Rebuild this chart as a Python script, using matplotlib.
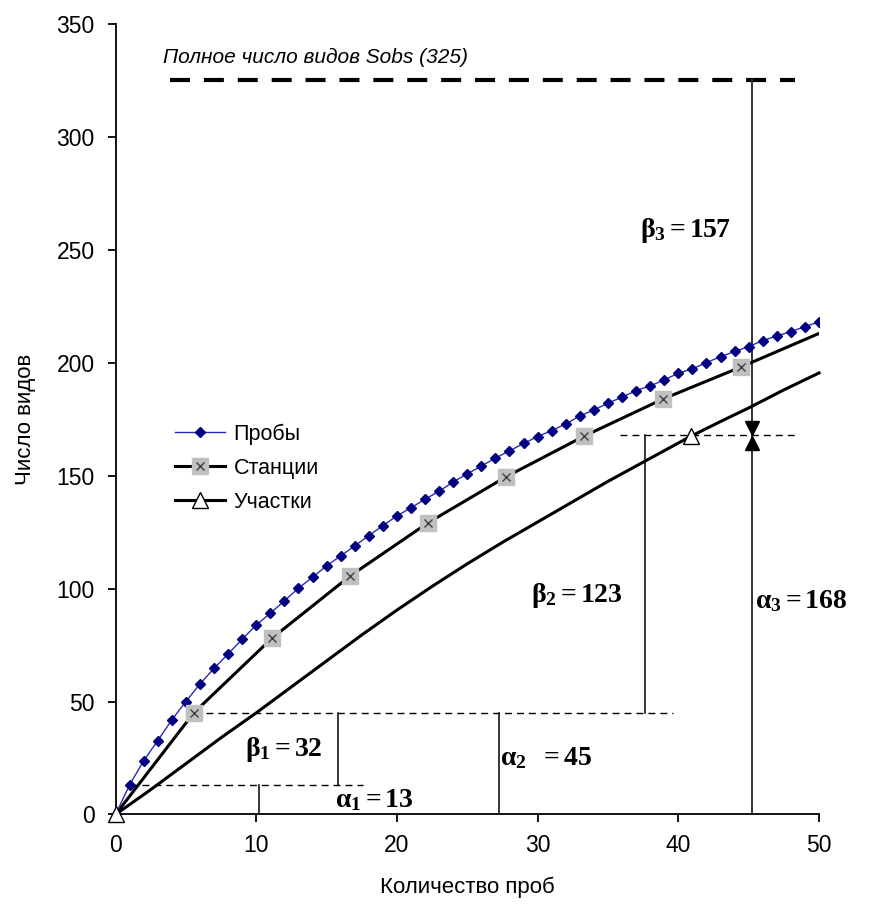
import matplotlib
matplotlib.use('Agg')
import matplotlib.pyplot as plt
from matplotlib.legend_handler import HandlerTuple
import numpy as np

plt.rcParams['font.family'] = ['Liberation Sans', 'DejaVu Sans']
plt.rcParams['mathtext.fontset'] = 'custom'
plt.rcParams['mathtext.rm'] = 'Liberation Serif'
plt.rcParams['mathtext.it'] = 'Liberation Serif:italic'
plt.rcParams['mathtext.bf'] = 'Liberation Serif:bold'
plt.rcParams['mathtext.default'] = 'bf'
plt.rcParams['lines.scale_dashes'] = False

# Пробы: кривая накопления видов по пробам
x_probes = np.arange(0, 51)
y_probes = [0, 13.1, 23.8, 32.7, 41.9, 50.0, 57.8, 64.7, 71.1, 77.6, 83.9,
            89.1, 94.6, 100.2, 105.0, 110.1, 114.5, 118.9, 123.5, 127.9, 132.2,
            135.8, 139.6, 143.1, 147.3, 150.8, 154.3, 157.8, 161.0, 164.3, 167.3,
            170.0, 172.9, 176.5, 179.1, 182.1, 184.8, 187.7, 189.8, 192.4, 195.4,
            197.3, 200.1, 202.7, 205.0, 207.2, 209.8, 211.9, 213.8, 216.0, 218.1]

# Станции
x_stations = [0, 5.56, 11.11, 16.67, 22.22, 27.78, 33.33, 38.89, 44.44, 50]
y_stations = [0, 45, 78.0, 105.6, 129.2, 149.6, 167.6, 183.9, 198.1, 213]

x_sites = [0, 2.5, 5, 7.5, 10, 12.5, 15, 17.5, 20, 22.5, 25, 27.5, 30,
           32.5, 35, 37.5, 40.9, 43, 45, 47.5, 50]
y_sites = [0, 11, 22.5, 34, 45, 56.5, 68, 79.5, 90.5, 101, 111, 120.5, 129.5,
           138.5, 147.5, 156, 167.5, 174, 180, 188, 195.5]
sites_marks = [0, 16]

s_obs = 325
alpha = [13, 45, 168]
beta = [32, 123, 157]

fig = plt.figure(figsize=(8.7, 9.06), dpi=100)
ax = fig.add_axes([0.1328, 0.1010, 0.8086, 0.8725])

# кривые
l1, = ax.plot(x_probes, y_probes, color='#2a2ab8', lw=1, marker='D', markersize=5.5,
              markerfacecolor='#000080', markeredgecolor='#000080', zorder=4)
l2, = ax.plot(x_stations, y_stations, color='black', lw=2.2, zorder=3)
m2a, = ax.plot(x_stations[1:-1], y_stations[1:-1], ls='none', marker='s', markersize=11,
               markerfacecolor='#c0c0c0', markeredgecolor='#c0c0c0', zorder=5)
m2b, = ax.plot(x_stations[1:-1], y_stations[1:-1], ls='none', marker='x', markersize=6,
               markeredgecolor='#404040', markeredgewidth=1, zorder=6)
l3, = ax.plot(x_sites, y_sites, color='black', lw=2.2, marker='^', markersize=12,
              markerfacecolor='white', markeredgecolor='black', markeredgewidth=1,
              markevery=sites_marks, clip_on=False, zorder=5)

# полное число видов
ax.plot([3.87, 48.3], [s_obs, s_obs], color='black', lw=3, dashes=(14.4, 10))
ax.text(3.38, 335, 'Полное число видов Sobs (325)', style='italic', fontsize=15,
        ha='left', va='center')

# вспомогательные линии
thin = dict(color='black', lw=1, dashes=(5, 3.6))
ax.plot([1, 17.6], [alpha[0], alpha[0]], **thin)
ax.plot([5.56, 39.6], [alpha[1], alpha[1]], **thin)
ax.plot([35.85, 48.3], [alpha[2], alpha[2]], **thin)

ax.plot([10.2, 10.2], [0, alpha[0]], color='black', lw=1.1)
ax.plot([15.8, 15.8], [alpha[0], alpha[1]], color='black', lw=1.1)
ax.plot([27.25, 27.25], [0, alpha[1]], color='black', lw=1.1)
ax.plot([37.6, 37.6], [alpha[1], alpha[2]], color='black', lw=1.1)
ax.plot([45.24, 45.24], [0, s_obs], color='#333333', lw=1.4)
ax.plot([45.24], [alpha[2] + 3.0], marker='v', markersize=10, color='black', ls='none', zorder=6)
ax.plot([45.24], [alpha[2] - 3.6], marker='^', markersize=10, color='black', ls='none', zorder=6)

# подписи
lab = dict(fontsize=20, ha='left', va='center')
ax.text(37.3, 258.4, r'$\beta_3 = %d$' % beta[2], **lab)
ax.text(29.5, 96.8, r'$\beta_2{=}%d$' % beta[1], **lab)
ax.text(45.45, 94.6, r'$\alpha_3 = %d$' % alpha[2], **lab)
ax.text(9.2, 28.6, r'$\beta_1 = %d$' % beta[0], **lab)
ax.text(15.6, 6.4, r'$\alpha_1 = %d$' % alpha[0], **lab)
ax.text(27.3, 25.0, r'$\alpha_2\ \ = %d$' % alpha[1], **lab)

# оси
ax.set_xlim(0, 50)
ax.set_ylim(0, 350)
ax.set_xticks(np.arange(0, 51, 10))
ax.set_yticks(np.arange(0, 351, 50))
for s in ['top', 'right']:
    ax.spines[s].set_visible(False)
for s in ['left', 'bottom']:
    ax.spines[s].set_linewidth(1.3)
ax.tick_params(direction='out', length=6, width=1.3, labelsize=16.5)
ax.tick_params(axis='y', pad=9)
ax.tick_params(axis='x', pad=8)
ax.set_xlabel('Количество проб', fontsize=16, labelpad=14)
ax.set_ylabel('Число видов', fontsize=16, labelpad=15)

ax.legend([l1, (l2, m2a, m2b), l3], ['Пробы', 'Станции', 'Участки'],
          handler_map={tuple: HandlerTuple(ndivide=1, pad=0)},
          loc='center left', bbox_to_anchor=(0.085, 0.438), frameon=False,
          fontsize=15.5, handlelength=2.3, handletextpad=0.4, labelspacing=0.6,
          borderpad=0, borderaxespad=0)

fig.savefig('out.png', dpi=100)
